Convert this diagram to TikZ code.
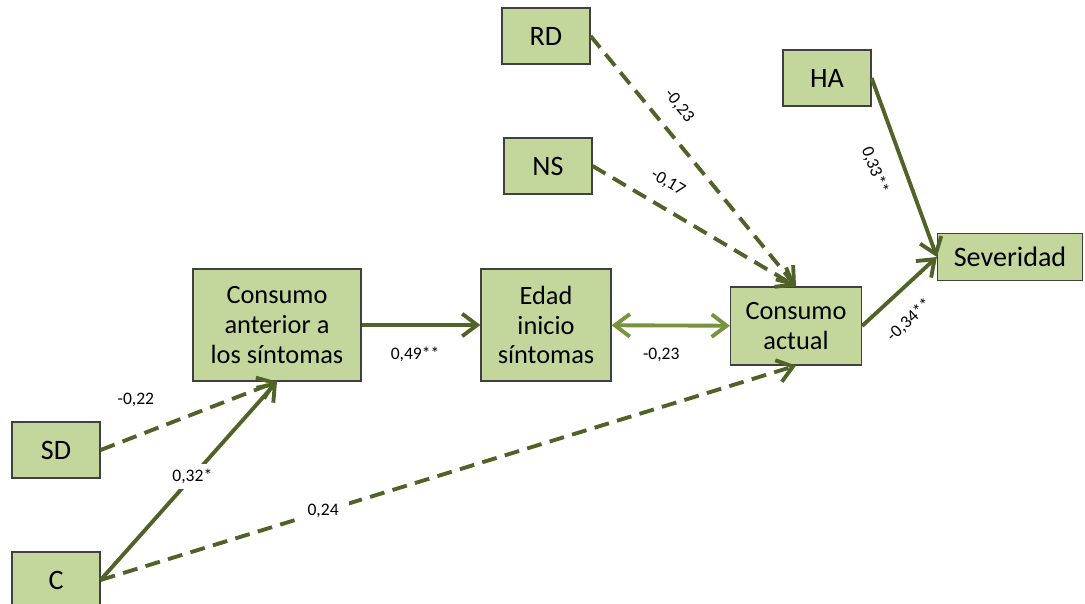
\documentclass[tikz,border=0pt]{standalone}
\usepackage{fontspec}
\setmainfont{Carlito}
\usetikzlibrary{positioning,arrows.meta}

\definecolor{boxgreen}{HTML}{C3D69B}
\definecolor{darkolive}{HTML}{4F6228}
\definecolor{lightolive}{HTML}{77933C}

\begin{document}
\begin{tikzpicture}[
    x=0.02cm, y=-0.02cm,
    var/.style={draw=black!75, line width=0.7pt, fill=boxgreen, inner sep=0pt, align=center, font=\fontsize{15}{17}\selectfont},
    small/.style={var, minimum width=1.76cm, minimum height=1.12cm, font=\fontsize{16}{18}\selectfont},
    path/.style={draw=darkolive, line width=2.2pt, -{Straight Barb[length=0.3cm, width=0.45cm]}},
    dpath/.style={path, dash pattern=on 0.3cm off 0.17cm},
    coef/.style={font=\fontsize{10}{12}\selectfont, inner sep=3pt}
]

\useasboundingbox (0,0) rectangle (1085,604);

% Define node positions
\node[small] (RD) at (546, 36) {RD};
\node[small] (NS) at (548, 166) {NS};
\node[small] (HA) at (827, 78) {HA};
\node[small] (SD) at (56, 450) {SD};
\node[small] (C) at (56, 580) {C};
\node[var, minimum width=3.36cm, minimum height=2.24cm] (CAnt) at (277, 325) {Consumo\\anterior a\\los síntomas};
\node[var, minimum width=2.6cm, minimum height=2.24cm] (EdadI) at (546, 325) {Edad\\inicio\\síntomas};
\node[var, minimum width=2.62cm, minimum height=1.56cm] (CAct) at (796, 326) {Consumo\\actual};
\node[var, minimum width=2.9cm, minimum height=0.94cm, font=\fontsize{16}{18}\selectfont] (Sev) at (1010, 257) {Severidad};

% Paths towards consumo anterior
\draw[dpath] (SD.east) -- (CAnt.south) node[coef, pos=0.2, above=0.45cm] {-0,22};
\draw[path] (C.east) -- (CAnt.south) node[coef, pos=0.52, fill=white] {0,32*};
\draw[dpath] (C.east) -- (CAct.south) node[coef, pos=0.32, fill=white, inner xsep=6pt] {0,24};

% Middle row
\draw[path] (CAnt) -- (EdadI) node[coef, pos=0.45, below=0.3cm] {0,49**};
\draw[path, draw=lightolive, {Straight Barb[length=0.3cm, width=0.45cm]}-{Straight Barb[length=0.3cm, width=0.45cm]}] (EdadI) -- (CAct) node[coef, pos=0.42, below=0.3cm] {-0,23};

% Paths towards consumo actual
\draw[dpath] (RD.east) -- (CAct.north) node[coef, pos=0.34, sloped, above=0.2cm] {-0,23};
\draw[dpath] (NS.east) -- (CAct.north) node[coef, pos=0.31, sloped, above=0.2cm] {-0,17};

% Paths towards severidad
\draw[path] (HA.east) -- (Sev.west) node[coef, pos=0.46, sloped, below=0.28cm] {0,33**};
\draw[path] (CAct.east) -- (Sev.west) node[coef, pos=0.38, sloped, below=0.26cm] {-0,34**};

\end{tikzpicture}
\end{document}
